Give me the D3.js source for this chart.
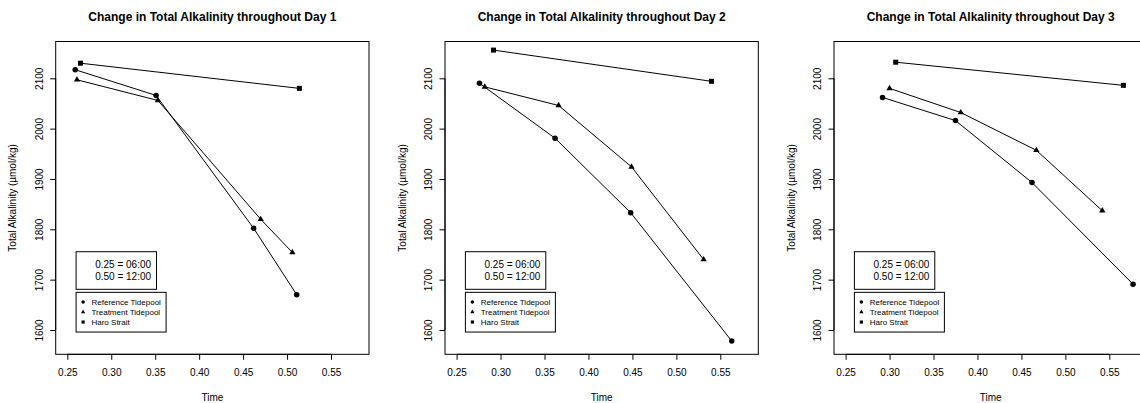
<!DOCTYPE html>
<html>
<head>
<meta charset="utf-8">
<script src="https://cdn.jsdelivr.net/npm/d3@7"></script>
<style>
  body { margin: 0; background: #fff; }
  svg { display: block; font-family: "Liberation Sans", Arial, sans-serif; }
</style>
</head>
<body>
<div class="chart"></div>
<script>
// one entry per day
const days = ['Day 1', 'Day 2', 'Day 3'];
const seriesNames = ['Reference Tidepool', 'Treatment Tidepool', 'Haro Strait'];

const refTime = [[0.259, 0.351, 0.462, 0.511], [0.276, 0.362, 0.448, 0.563], [0.292, 0.375, 0.462, 0.577]];
const refTA = [[2117, 2066, 1802, 1670], [2090, 1981, 1833, 1578], [2062, 2016, 1893, 1691]];
const trtTime = [[0.261, 0.353, 0.470, 0.506], [0.282, 0.366, 0.449, 0.531], [0.300, 0.381, 0.467, 0.542]];
const trtTA = [[2097, 2056, 1820, 1754], [2083, 2046, 1924, 1740], [2080, 2032, 1957, 1837]];
const haroTime = [[0.265, 0.514], [0.292, 0.540], [0.307, 0.566]];
const haroTA = [[2130, 2080], [2156, 2094], [2132, 2086]];

const xTicks = [0.25, 0.30, 0.35, 0.40, 0.45, 0.50, 0.55];
const yTicks = [1600, 1700, 1800, 1900, 2000, 2100];
const timeNote = ['0.25 = 06:00', '0.50 = 12:00'];

const width = 1140, height = 403;
const fontFamily = '"Liberation Sans", Arial, sans-serif';
let plotLeft = [55.7, 445, 834];
let plotTop = 41.5, plotW = 313.3, plotH = 312.8;

let svg = d3.select('.chart')
    .append('svg')
    .attr('width', width)
    .attr('height', height);

let symbols = [d3.symbolCircle, d3.symbolTriangle, d3.symbolSquare];

function draw_panel(i) {
    let g = svg.append('g')
        .attr('transform', `translate(${plotLeft[i]}, ${plotTop})`);

    let x = d3.scaleLinear()
        .domain([0.2368, 0.5932])
        .range([0, plotW]);
    let y = d3.scaleLinear()
        .domain([1551.7, 2173.1])
        .range([plotH, 0]);

    // title
    g.append('text')
        .attr('x', plotW / 2)
        .attr('y', 16.7 - plotTop)
        .attr('dy', '0.35em')
        .attr('text-anchor', 'middle')
        .attr('font-weight', 'bold')
        .attr('font-size', '12px')
        .text('Change in Total Alkalinity throughout ' + days[i]);

    // x axis
    let axis_x = d3.axisBottom(x)
        .tickValues(xTicks)
        .tickSize(5.5)
        .tickPadding(9)
        .tickFormat(d3.format('.2f'));
    let gx = g.append('g')
        .attr('transform', `translate(0, ${plotH})`)
        .call(axis_x)
        .attr('font-family', fontFamily)
        .attr('font-size', '10px');
    gx.select('.domain')
        .attr('d', `M${x(xTicks[0])},0H${x(xTicks[xTicks.length - 1])}`);

    // y axis, labels parallel to the axis
    let axis_y = d3.axisLeft(y)
        .tickValues(yTicks)
        .tickSize(5.5)
        .tickFormat(d => d);
    let gy = g.append('g')
        .call(axis_y)
        .attr('font-family', fontFamily)
        .attr('font-size', '10px');
    gy.select('.domain')
        .attr('d', `M0,${y(yTicks[0])}V${y(yTicks[yTicks.length - 1])}`);
    gy.selectAll('.tick text')
        .attr('x', null)
        .attr('dy', null)
        .attr('text-anchor', 'middle')
        .attr('transform', 'translate(-16.5, 0) rotate(-90)')
        .attr('dominant-baseline', 'central');

    // box
    g.append('rect')
        .attr('x', 0)
        .attr('y', 0)
        .attr('width', plotW)
        .attr('height', plotH)
        .attr('fill', 'none')
        .attr('stroke', '#000')
        .attr('stroke-width', 1);

    // axis labels
    g.append('text')
        .attr('x', plotW / 2)
        .attr('y', 397.3 - plotTop)
        .attr('dy', '0.35em')
        .attr('text-anchor', 'middle')
        .attr('font-size', '10px')
        .text('Time');
    g.append('text')
        .attr('transform', `translate(-43, ${plotH / 2}) rotate(-90)`)
        .attr('dy', '0.35em')
        .attr('text-anchor', 'middle')
        .attr('font-size', '10px')
        .text('Total Alkalinity (\u00b5mol/kg)');

    // series
    let all = [
        refTime[i].map((t, k) => [t, refTA[i][k]]),
        trtTime[i].map((t, k) => [t, trtTA[i][k]]),
        haroTime[i].map((t, k) => [t, haroTA[i][k]])
    ];
    let line = d3.line()
        .x(d => x(d[0]))
        .y(d => y(d[1]));
    let sizes = [24, 17, 25];
    all.forEach((pts, s) => {
        g.append('path')
            .attr('d', line(pts))
            .attr('fill', 'none')
            .attr('stroke', '#000')
            .attr('stroke-width', 1);
        g.append('g')
            .selectAll('path')
            .data(pts)
            .enter().append('path')
            .attr('d', d3.symbol().type(symbols[s]).size(sizes[s]))
            .attr('transform', d => `translate(${x(d[0])}, ${y(d[1])})`)
            .attr('fill', '#000');
    });

    // time note box
    let bx = x(0.26);
    let noteTop = y(1755.5);
    g.append('rect')
        .attr('x', bx)
        .attr('y', noteTop)
        .attr('width', 80.4)
        .attr('height', 37.6)
        .attr('fill', '#fff')
        .attr('stroke', '#000');
    g.selectAll('.note')
        .data(timeNote)
        .enter().append('text')
        .attr('x', bx + 75)
        .attr('y', (d, k) => noteTop + 12.6 + k * 12)
        .attr('dy', '0.35em')
        .attr('text-anchor', 'end')
        .attr('font-size', '10px')
        .text(d => d);

    // legend
    let legTop = y(1674.8);
    g.append('rect')
        .attr('x', bx)
        .attr('y', legTop)
        .attr('width', 90)
        .attr('height', 39.7)
        .attr('fill', '#fff')
        .attr('stroke', '#000');
    let legSizes = [10, 8, 10];
    seriesNames.forEach((name, s) => {
        let ly = legTop + 9.7 + s * 10;
        g.append('path')
            .attr('d', d3.symbol().type(symbols[s]).size(legSizes[s]))
            .attr('transform', `translate(${bx + 7}, ${ly})`)
            .attr('fill', '#000');
        g.append('text')
            .attr('x', bx + 15.4)
            .attr('y', ly)
            .attr('dy', '0.35em')
            .attr('font-size', '8px')
            .text(name);
    });
}

days.forEach((d, i) => draw_panel(i));
</script>
</body>
</html>
